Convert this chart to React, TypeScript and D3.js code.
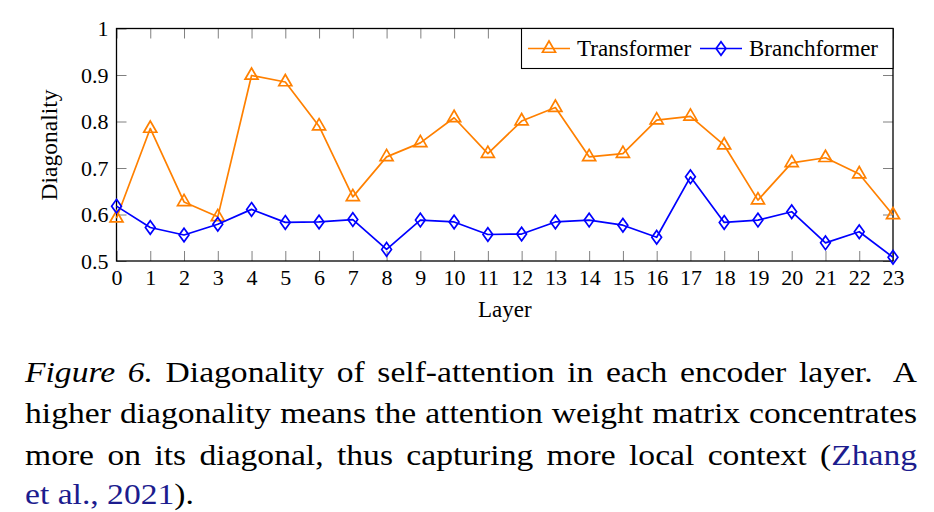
import * as d3 from 'd3';
import { useEffect, useRef } from 'react';

const layers = [0, 1, 2, 3, 4, 5, 6, 7, 8, 9, 10, 11, 12, 13, 14, 15, 16, 17, 18, 19, 20, 21, 22, 23];
const transformer = [0.592, 0.785, 0.627, 0.595, 0.899, 0.885, 0.79, 0.638, 0.724, 0.754, 0.808, 0.731,
    0.801, 0.83, 0.724, 0.731, 0.803, 0.811, 0.749, 0.631, 0.711, 0.722, 0.687, 0.599];
const branchformer = [0.618, 0.572, 0.556, 0.579, 0.611, 0.583, 0.584, 0.589, 0.525, 0.588, 0.584, 0.557,
    0.558, 0.584, 0.588, 0.577, 0.551, 0.681, 0.583, 0.588, 0.606, 0.539, 0.563, 0.508];
const yTicks = [0.5, 0.6, 0.7, 0.8, 0.9, 1];
const yTickLabels = ['0.5', '0.6', '0.7', '0.8', '0.9', '1'];
const seriesNames = ['Transformer', 'Branchformer'];
const seriesColors = ['#ff8000', '#0000ff'];

// caption: each line is a list of words, each word a list of [text, style] pieces
const captionLines = [
    [[['Figure', 'i']], [['6.', 'i']], [['Diagonality', '']], [['of', '']], [['self-attention', '']], [['in', '']],
        [['each', '']], [['encoder', '']], [['layer.', '']], [['A', '']]],
    [[['higher', '']], [['diagonality', '']], [['means', '']], [['the', '']], [['attention', '']], [['weight', '']],
        [['matrix', '']], [['concentrates', '']]],
    [[['more', '']], [['on', '']], [['its', '']], [['diagonal,', '']], [['thus', '']], [['capturing', '']],
        [['more', '']], [['local', '']], [['context', '']], [['(', ''], ['Zhang', 'b']]],
    [[['et', 'b']], [['al.,', 'b']], [['2021', 'b'], [').', '']]],
];

const serif = '"Liberation Serif", "Times New Roman", serif';

const App = () => {
    const svgRef = useRef(null);

    useEffect(() => {
        const svg = d3.select(svgRef.current);
        svg.selectAll('*').remove();

        const x = d3.scaleLinear().domain([0, 23]).range([116.5, 893]);
        const y = d3.scaleLinear().domain([0.5, 1]).range([261, 28.5]);

        const styleAxis = (g) => {
            g.select('.domain').remove();
            g.selectAll('line').attr('stroke', '#808080').attr('stroke-width', 1);
            g.selectAll('text').attr('font-family', serif).attr('font-size', 22).attr('fill', '#000');
        };

        svg.append('g')
            .attr('transform', 'translate(0,261)')
            .call(d3.axisBottom(x).tickValues(layers).tickFormat(d3.format('d')).tickSize(-10).tickPadding(8))
            .call(styleAxis);
        svg.append('g')
            .attr('transform', 'translate(0,28.5)')
            .call(d3.axisTop(x).tickValues(layers).tickFormat(() => '').tickSize(-10))
            .call(styleAxis);
        svg.append('g')
            .attr('transform', 'translate(116.5,0)')
            .call(d3.axisLeft(y).tickValues(yTicks).tickFormat((d, i) => yTickLabels[i]).tickSize(-10).tickPadding(8))
            .call(styleAxis);
        svg.append('g')
            .attr('transform', 'translate(893,0)')
            .call(d3.axisRight(y).tickValues(yTicks).tickFormat(() => '').tickSize(-10))
            .call(styleAxis);

        svg.append('rect')
            .attr('x', 116.5).attr('y', 28.5)
            .attr('width', 893 - 116.5).attr('height', 261 - 28.5)
            .attr('fill', 'none').attr('stroke', '#000').attr('stroke-width', 1.3);

        svg.append('text')
            .attr('x', (116.5 + 893) / 2).attr('y', 317)
            .attr('text-anchor', 'middle')
            .attr('font-family', serif).attr('font-size', 23)
            .text('Layer');
        svg.append('text')
            .attr('transform', 'translate(57,145) rotate(-90)')
            .attr('text-anchor', 'middle')
            .attr('font-family', serif).attr('font-size', 23.5)
            .text('Diagonality');

        const triangle = 'M0,-7.5L6.5,3.75L-6.5,3.75Z';
        const diamond = 'M0,-6.8L4.9,0L0,6.8L-4.9,0Z';
        const markers = [triangle, diamond];

        [transformer, branchformer].forEach((values, s) => {
            const line = d3.line().x((d, i) => x(layers[i])).y(d => y(d));
            svg.append('path')
                .attr('d', line(values))
                .attr('fill', 'none')
                .attr('stroke', seriesColors[s])
                .attr('stroke-width', 1.7)
                .attr('stroke-linejoin', 'round');
            svg.selectAll(null)
                .data(values)
                .enter()
                .append('path')
                .attr('d', markers[s])
                .attr('transform', (d, i) => `translate(${x(layers[i])},${y(d)})`)
                .attr('fill', 'none')
                .attr('stroke', seriesColors[s])
                .attr('stroke-width', 1.7);
        });

        // legend
        const legend = svg.append('g');
        legend.append('rect')
            .attr('x', 521.5).attr('y', 28.5).attr('width', 893 - 521.5).attr('height', 40)
            .attr('fill', '#fff').attr('stroke', '#000').attr('stroke-width', 1.1);
        const legendX = [528, 700];
        seriesNames.forEach((name, s) => {
            const lx = legendX[s];
            legend.append('line')
                .attr('x1', lx).attr('x2', lx + 42).attr('y1', 48.5).attr('y2', 48.5)
                .attr('stroke', seriesColors[s]).attr('stroke-width', 1.7);
            legend.append('path')
                .attr('d', markers[s])
                .attr('transform', `translate(${lx + 21},48.5)`)
                .attr('fill', 'none').attr('stroke', seriesColors[s]).attr('stroke-width', 1.7);
            legend.append('text')
                .attr('x', lx + 49).attr('y', 55.5)
                .attr('font-family', serif).attr('font-size', 23)
                .text(name);
        });

        // caption, justified; the source glyphs are a bit wider than they are tall
        const stretch = 1.12;
        const left = 25, right = 917;
        const cap = svg.append('g').attr('transform', `translate(${left},0) scale(${stretch},1)`);
        const lineWidth = (right - left) / stretch;
        const baselines = [382, 423.5, 465, 504.5];
        captionLines.forEach((words, li) => {
            const nodes = words.map(pieces => {
                const t = cap.append('text')
                    .attr('y', baselines[li])
                    .attr('font-family', serif).attr('font-size', 30);
                pieces.forEach(([txt, st]) => {
                    t.append('tspan')
                        .attr('font-style', st === 'i' ? 'italic' : 'normal')
                        .attr('fill', st === 'b' ? '#1c1c8e' : '#000')
                        .text(txt);
                });
                return t;
            });
            const widths = nodes.map(n => n.node().getComputedTextLength());
            const total = d3.sum(widths);
            // wider sentence space before "A"
            const weights = words.slice(1).map((w, i) => (li === 0 && i === words.length - 2 ? 1.6 : 1));
            let unit = 7.5;
            if (li < 3) unit = (lineWidth - total) / d3.sum(weights);
            let cx = 0;
            nodes.forEach((n, i) => {
                n.attr('x', cx);
                if (i < weights.length) cx += widths[i] + unit * weights[i];
            });
        });
    }, []);

    return (
        <div style={{ position: 'absolute', left: 0, top: 0 }}>
            <svg ref={svgRef} width={934} height={512} style={{ display: 'block', background: '#fff' }} />
        </div>
    );
};

export default App;
